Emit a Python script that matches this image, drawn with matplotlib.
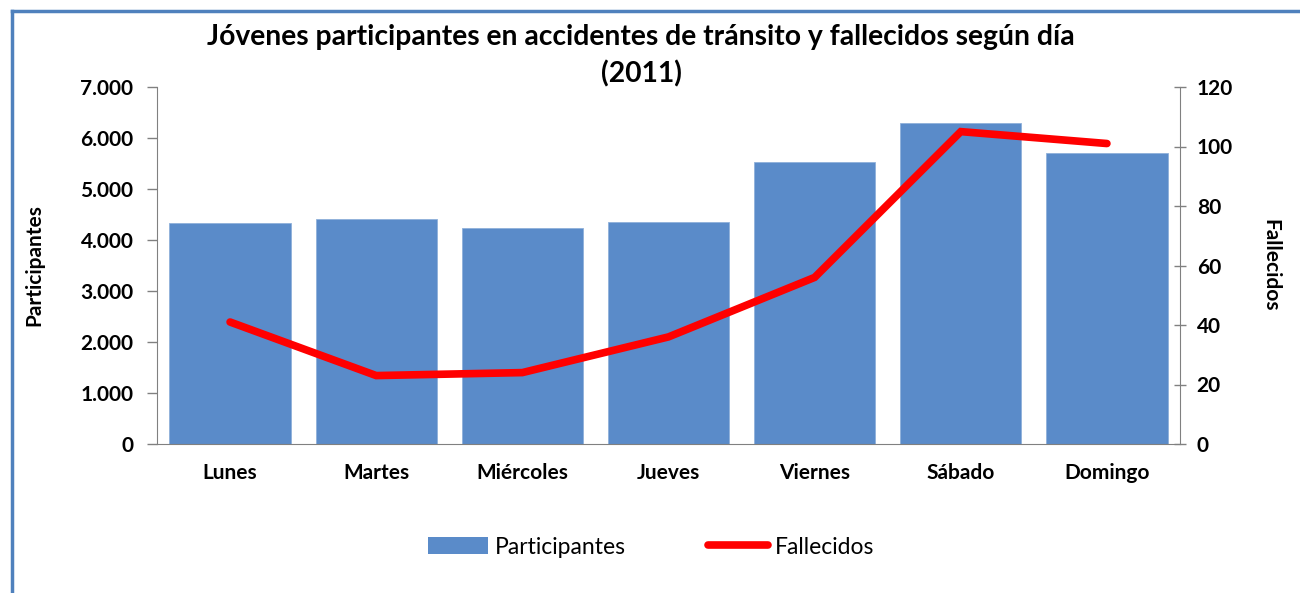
import matplotlib
matplotlib.use("Agg")
import matplotlib.pyplot as plt
from matplotlib.ticker import FuncFormatter, MultipleLocator
from matplotlib.patches import Patch
from matplotlib.lines import Line2D

dias = ["Lunes", "Martes", "Miércoles", "Jueves", "Viernes", "Sábado", "Domingo"]
participantes = [4330, 4420, 4230, 4360, 5520, 6290, 5700]
fallecidos = [41, 23, 24, 36, 56, 105, 101]

title = "Jóvenes participantes en accidentes de tránsito y fallecidos según día\n(2011)"
bar_color = "#5A8BC9"
line_color = "#FF0000"
font = ["Lato", "DejaVu Sans"]
plt.rcParams["font.family"] = font
W = "bold"

fig = plt.figure(figsize=(13, 5.93), dpi=100)
ax = fig.add_axes([157/1300, 1-444/593, (1180-157)/1300, (444-87)/593])
ax2 = ax.twinx()

x = list(range(len(dias)))
ax.bar(x, participantes, width=0.83, color=bar_color, edgecolor="#8FB0DA", linewidth=0.6, zorder=2)
ax.set_xlim(-0.5, len(dias) - 0.5)
ax.set_ylim(0, 7000)
ax.yaxis.set_major_locator(MultipleLocator(1000))
ax.yaxis.set_major_formatter(FuncFormatter(lambda v, p: f"{int(v):,}".replace(",", ".")))

ax2.plot(x, fallecidos, color=line_color, linewidth=5.5, solid_capstyle="round", solid_joinstyle="miter", zorder=3)
ax2.set_ylim(0, 120)
ax2.yaxis.set_major_locator(MultipleLocator(20))

ax.set_xticks(x)
ax.set_xticklabels(dias, fontsize=15, fontweight=W)
ax.tick_params(axis="x", length=0, pad=14)
ax.tick_params(axis="y", labelsize=15, length=7, width=1, color="#808080", pad=10)
for t in ax.get_yticklabels():
    t.set_fontweight(W)
ax2.tick_params(axis="y", labelsize=15, length=8, width=1, color="#808080", direction="inout", pad=8)
for t in ax2.get_yticklabels():
    t.set_fontweight(W)

for a in (ax, ax2):
    a.spines["top"].set_visible(False)
    for s in ("left", "right", "bottom"):
        a.spines[s].set_color("#808080")
ax.spines["right"].set_visible(False)
ax2.spines["left"].set_visible(False)
ax2.spines["bottom"].set_visible(False)

ax.set_ylabel("Participantes", fontsize=15, fontweight=W)
ax2.set_ylabel("Fallecidos", fontsize=15, fontweight=W, rotation=-90)
ax.yaxis.set_label_coords(-0.11, 0.5)
ax2.yaxis.set_label_coords(1.098, 0.5)

fig.text(641/1300, 1-56/593, title, ha="center", va="center", fontsize=20.3, fontweight=W, linespacing=1.45)

handles = [Patch(facecolor=bar_color, edgecolor="none"),
           Line2D([0], [0], color=line_color, linewidth=5.5, solid_capstyle="round")]
fig.legend(handles, ["Participantes", "Fallecidos"], loc="center", bbox_to_anchor=(651/1300, 1-547/593),
           ncol=2, frameon=False, fontsize=16.5, handlelength=2.6, handleheight=0.7, columnspacing=3.6, handletextpad=0.3)

# outer frame (blue border on left and top)
fig.add_artist(Line2D([12/1300, 12/1300], [0, 1-11/593], color="#4F81BD", linewidth=2.5, transform=fig.transFigure))
fig.add_artist(Line2D([12/1300, 1], [1-11/593, 1-11/593], color="#4F81BD", linewidth=2.5, transform=fig.transFigure))

fig.savefig("out.png", dpi=100)
